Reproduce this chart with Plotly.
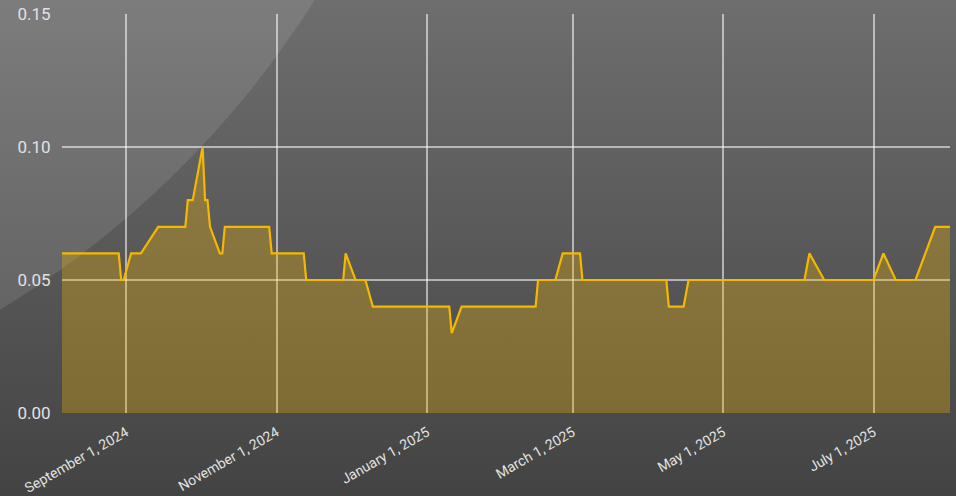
import base64
import plotly.graph_objects as go

# ---- data ----
dates = [
    "2024-08-06", "2024-08-29", "2024-08-30", "2024-08-31", "2024-09-03", "2024-09-07",
    "2024-09-14", "2024-09-25", "2024-09-26", "2024-09-28", "2024-09-30", "2024-10-02",
    "2024-10-03", "2024-10-04", "2024-10-05", "2024-10-09", "2024-10-10", "2024-10-11",
    "2024-10-29", "2024-10-30", "2024-11-12", "2024-11-13", "2024-11-28", "2024-11-29",
    "2024-12-03", "2024-12-07", "2024-12-10", "2025-01-10", "2025-01-11", "2025-01-15",
    "2025-02-14", "2025-02-15", "2025-02-22", "2025-02-25", "2025-03-04", "2025-03-05",
    "2025-04-08", "2025-04-09", "2025-04-15", "2025-04-17", "2025-06-03", "2025-06-05",
    "2025-06-11", "2025-07-01", "2025-07-05", "2025-07-10", "2025-07-18", "2025-07-26",
    "2025-08-01",
]
values = [
    0.06, 0.06, 0.05, 0.05, 0.06, 0.06,
    0.07, 0.07, 0.08, 0.08, 0.09, 0.10,
    0.08, 0.08, 0.07, 0.06, 0.06, 0.07,
    0.07, 0.06, 0.06, 0.05, 0.05, 0.06,
    0.05, 0.05, 0.04, 0.04, 0.03, 0.04,
    0.04, 0.05, 0.05, 0.06, 0.06, 0.05,
    0.05, 0.04, 0.04, 0.05, 0.05, 0.06,
    0.05, 0.05, 0.06, 0.05, 0.05, 0.07,
    0.07,
]
y_ticks = [0.0, 0.05, 0.10, 0.15]
y_tick_labels = ["0.00", "0.05", "0.10", "0.15"]

W, H = 956, 496
ML, MR, MT, MB = 62, 6, 14, 83
PW, PH = W - ML - MR, H - MT - MB

svg = f'''<svg xmlns="http://www.w3.org/2000/svg" width="{W}" height="{H}" viewBox="0 0 {W} {H}">
<defs><linearGradient id="g" x1="0" y1="0" x2="0" y2="1">
<stop offset="0" stop-color="#6e6e6e"/><stop offset="1" stop-color="#434343"/>
</linearGradient></defs>
<rect x="0" y="0" width="{W}" height="{H}" fill="url(#g)"/>
<circle cx="-498" cy="-511" r="960" fill="#ffffff" fill-opacity="0.1"/>
</svg>'''
bg_src = "data:image/svg+xml;base64," + base64.b64encode(svg.encode()).decode()

line_color = "#f5b800"
grid_color = "rgba(255,255,255,0.55)"

fig = go.Figure()
fig.add_trace(go.Scatter(
    x=dates, y=values, mode="lines",
    line=dict(color=line_color, width=2.2),
    fill="tozeroy", fillcolor="rgba(245,184,0,0.3)",
    hoverinfo="x+y",
))

fig.update_layout(
    width=W, height=H,
    margin=dict(l=ML, r=MR, t=MT, b=MB, autoexpand=False),
    paper_bgcolor="#555555",
    plot_bgcolor="rgba(0,0,0,0)",
    showlegend=False,
    font=dict(family="Roboto", color="#e2e2e2"),
    images=[dict(
        source=bg_src, xref="paper", yref="paper",
        x=-ML / PW, y=1 + MT / PH, sizex=W / PW, sizey=H / PH,
        xanchor="left", yanchor="top", sizing="stretch", layer="below",
    )],
    xaxis=dict(
        type="date", automargin=False,
        range=["2024-08-06", "2025-08-01"],
        tick0="2024-09-01", dtick="M2",
        tickformat="%B %-d, %Y",
        tickangle=-30,
        tickfont=dict(size=14, color="#e2e2e2"),
        showgrid=True, gridcolor=grid_color, gridwidth=1.5,
        zeroline=False, showline=False,
        ticks="outside", ticklen=5, tickcolor="rgba(0,0,0,0)",
    ),
    yaxis=dict(
        automargin=False,
        range=[0, 0.15],
        tickvals=y_ticks, ticktext=y_tick_labels,
        tickfont=dict(size=17, color="#e2e2e2"),
        showgrid=True, gridcolor=grid_color, gridwidth=1.5,
        zeroline=False, showline=False,
        ticks="outside", ticklen=7, tickcolor="rgba(0,0,0,0)",
    ),
)

fig.write_html(
    "out.html",
    config={"displayModeBar": False},
    post_script="document.body.style.margin='0';document.body.style.padding='0';"
                "document.body.style.overflow='hidden';document.body.style.background='#444';",
)
